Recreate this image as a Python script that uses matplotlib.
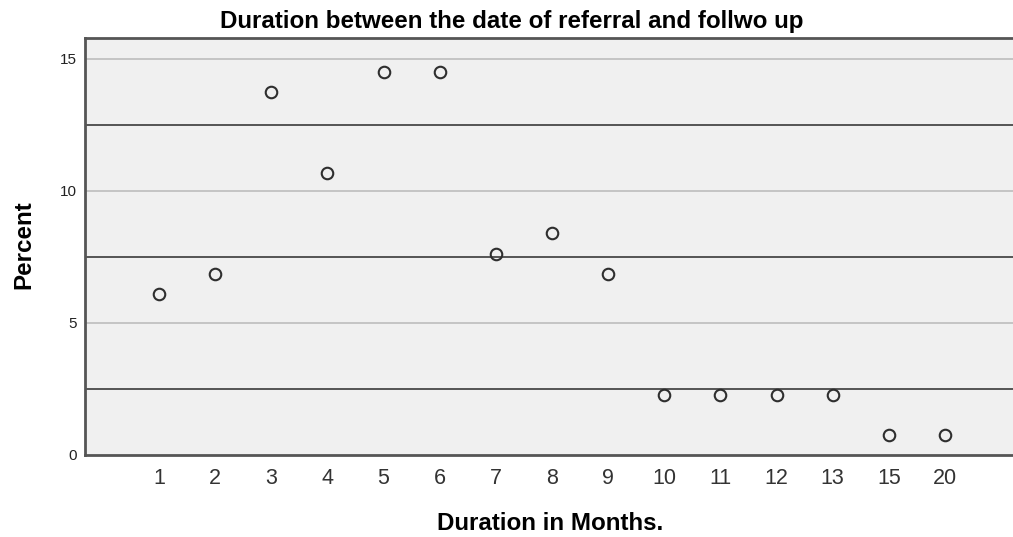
import matplotlib
matplotlib.use("Agg")
import matplotlib.pyplot as plt
import numpy as np

plt.rcParams['font.family'] = ['Liberation Sans', 'DejaVu Sans']

categories = ["1", "2", "3", "4", "5", "6", "7", "8", "9", "10", "11", "12", "13", "15", "20"]
percent = [6.11, 6.87, 13.74, 10.69, 14.50, 14.50, 7.63, 8.40, 6.87, 2.29, 2.29, 2.29, 2.29, 0.76, 0.76]
y_ticks = [0, 5, 10, 15]
ref_lines = [2.5, 7.5, 12.5]

W, H = 1013, 537
fig = plt.figure(figsize=(W / 100, H / 100), dpi=100)
ax = fig.add_axes([85 / W, (H - 455) / H, (W - 85) / W, (455 - 38) / H])
ax.set_facecolor('#f0f0f0')

x = np.arange(len(categories))
for v in y_ticks[1:]:
    ax.axhline(v, color='#b9b9b9', lw=1.1, zorder=1)
for v in ref_lines:
    ax.axhline(v, color='#3a3a3a', lw=1.2, zorder=2)

ax.plot(x, percent, linestyle='none', marker='o', markersize=8.3,
        markerfacecolor='none', markeredgecolor='#2e2e2e', markeredgewidth=1.5, zorder=3)

ax.set_xlim(-74 / 56.14, 14 + 68 / 56.14)
ax.set_ylim(0, (455 - 38) / 26.4)
ax.set_xticks(x)
ax.set_xticklabels(categories, fontsize=15.5, color='#333333')
ax.set_yticks(y_ticks)
ax.set_yticklabels([str(v) for v in y_ticks], fontsize=11, color='#222222')
ax.tick_params(axis='both', length=0)
ax.tick_params(axis='x', pad=9)
ax.tick_params(axis='y', pad=6)

for s in ['left', 'bottom', 'top']:
    ax.spines[s].set_color('#555555')
    ax.spines[s].set_linewidth(2)
ax.spines['right'].set_visible(False)

fig.text(512 / W, 1 - 28 / H, "Duration between the date of referral and follwo up",
         ha='center', va='baseline', fontsize=17.4, fontweight='bold')
fig.text(550 / W, 1 - 530 / H, "Duration in Months.", ha='center', va='baseline',
         fontsize=17.4, fontweight='bold')
fig.text(24 / W, 1 - 245 / H, "Percent", ha='center', va='center', rotation=90,
         fontsize=17.4, fontweight='bold')

fig.savefig('out.png', dpi=100)
